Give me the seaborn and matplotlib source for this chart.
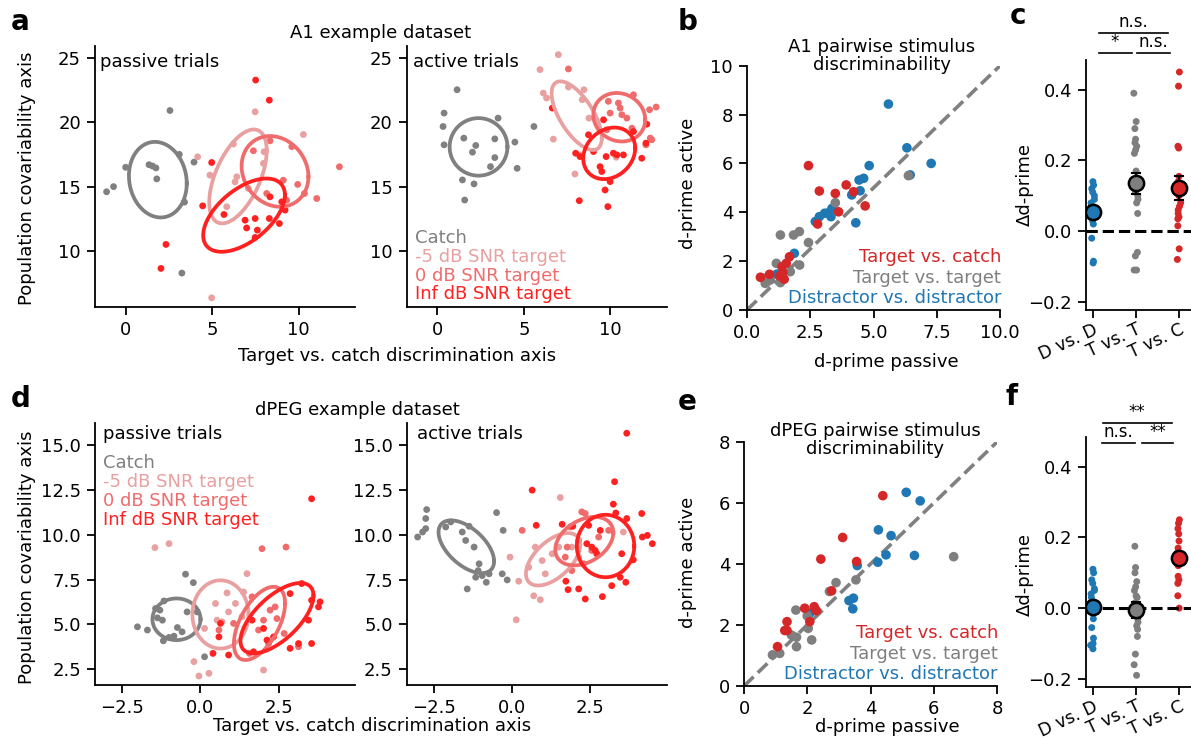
import numpy as np
import pandas as pd
import matplotlib
matplotlib.use("Agg")
import matplotlib.pyplot as plt
from matplotlib.lines import Line2D
import seaborn as sns

# ---------------- categories / colours ----------------
stim_groups = ["Catch", "-5 dB SNR target", "0 dB SNR target", "Inf dB SNR target"]
stim_colors = ["#808080", "#e8a0a0", "#f06c6c", "#ff2020"]
pair_groups = ["Distractor vs. distractor", "Target vs. target", "Target vs. catch"]
pair_colors = ["#1f77b4", "#7f7f7f", "#d62728"]
delta_cats = ["D vs. D", "T vs. T", "T vs. C"]
delta_colors = ["#1f77b4", "#7f7f7f", "#d62728"]

# ---------------- panel a: A1 example, passive ----------------
a_pas_catch_x = [2.56, 0.0, 1.35, 1.55, 1.75, 1.8, -1.1, -0.7, 3.1, 3.95, 3.4, 3.25]
a_pas_catch_y = [20.9, 16.5, 16.7, 16.6, 16.45, 15.6, 14.6, 15.0, 17.5, 16.9, 13.8, 8.3]
a_pas_m5_x = [7.48, 10.27, 4.16, 6.22, 4.87, 6.42, 6.32, 7.96, 4.97, 7.09, 5.84, 8.0]
a_pas_m5_y = [20.8, 19.04, 17.31, 18.3, 15.89, 15.76, 15.37, 16.8, 6.38, 14.86, 13.44, 17.7]
a_pas_0db_x = [7.38, 8.34, 9.6, 12.35, 11.04, 9.11, 9.94, 10.33, 8.15, 9.3]
a_pas_0db_y = [17.78, 18.55, 18.1, 16.54, 14.08, 15.5, 15.17, 14.47, 14.47, 13.95]
a_pas_inf_x = [7.51, 8.3, 2.33, 2.04, 4.45, 4.97, 5.68, 6.9, 6.99, 7.48, 7.61, 7.48, 8.3, 8.88, 9.21, 8.34, 9.02]
a_pas_inf_y = [23.26, 21.7, 10.52, 8.66, 13.51, 16.87, 12.84, 12.4, 11.8, 12.53, 11.63, 11.06, 12.53, 12.14, 13.18, 14.21, 13.82]
# ellipses (centre, std along each axis, correlation) per group
a_pas_ell_cx = [1.86, 6.49, 8.63, 6.84]
a_pas_ell_cy = [15.54, 15.79, 16.18, 12.79]
a_pas_ell_sx = [1.67, 1.66, 1.93, 2.36]
a_pas_ell_sy = [2.93, 3.64, 2.74, 2.84]
a_pas_ell_r = [-0.1, 0.55, -0.15, 0.55]

# ---------------- panel a: A1 example, active ----------------
a_act_catch_x = [1.14, 0.39, 0.33, 0.39, 3.51, 1.53, 2.22, 2.03, 3.32, 3.32, 4.48, 3.07, 4.61, 1.45, 2.12, 1.58, 5.58]
a_act_catch_y = [22.51, 20.7, 19.66, 18.24, 20.31, 18.76, 18.19, 17.67, 18.7, 17.25, 18.45, 16.55, 16.42, 15.52, 15.21, 13.96, 19.66]
a_act_m5_x = [6.99, 5.93, 6.12, 6.31, 7.57, 8.47, 8.37, 8.76, 6.7, 7.95, 10.33, 8.24]
a_act_m5_y = [25.23, 24.07, 22.25, 21.87, 22.72, 22.51, 21.74, 20.31, 18.68, 15.98, 17.28, 17.46]
a_act_0db_x = [9.88, 10.46, 10.56, 9.98, 10.66, 10.95, 11.33, 12.26, 12.64, 9.79, 11.24, 12.3, 12.39, 12.05, 7.57]
a_act_0db_y = [21.61, 21.48, 21.09, 20.7, 20.57, 20.31, 22.12, 20.96, 21.17, 19.4, 19.53, 18.76, 18.63, 18.24, 24.12]
a_act_inf_x = [6.64, 8.73, 7.99, 8.24, 9.02, 9.4, 9.5, 9.75, 10.17, 10.37, 10.75, 9.98, 9.69, 8.2, 9.85, 11.81, 12.05, 12.1, 9.6, 11.33]
a_act_inf_y = [21.09, 19.02, 17.59, 17.33, 17.72, 16.55, 16.17, 17.33, 17.59, 17.46, 17.46, 15.39, 14.74, 13.91, 13.45, 17.2, 18.37, 19.84, 20.18, 19.27]
a_act_ell_cx = [2.38, 8.05, 10.51, 9.93]
a_act_ell_cy = [18.08, 20.5, 20.38, 17.58]
a_act_ell_sx = [1.67, 1.45, 1.5, 1.5]
a_act_ell_sy = [2.23, 2.66, 1.88, 2.0]
a_act_ell_r = [0.0, -0.65, -0.1, 0.2]

# ---------------- panel b: A1 pairwise d-prime ----------------
b_dd_pas = [5.59, 6.32, 7.28, 4.83, 4.61, 4.43, 4.47, 4.14, 6.45, 4.3, 3.36, 3.22, 3.07, 2.86, 2.70, 3.32, 1.87, 1.18]
b_dd_act = [8.43, 6.64, 6.0, 5.91, 5.39, 5.32, 4.88, 4.71, 5.53, 3.57, 4.16, 3.98, 3.96, 3.82, 3.62, 3.82, 2.32, 1.47]
b_tt_pas = [1.32, 1.84, 2.07, 2.43, 3.49, 2.08, 1.16, 0.79, 0.72, 0.92, 1.32, 1.71, 6.38, 0.65]
b_tt_act = [3.07, 3.07, 3.21, 2.76, 4.39, 1.84, 1.91, 1.16, 1.09, 1.23, 1.12, 1.57, 5.5, 1.3]
b_tc_pas = [2.43, 2.86, 3.49, 3.92, 4.21, 3.62, 4.67, 2.79, 1.68, 1.55, 1.38, 1.42, 1.47, 0.53, 0.89, 1.29]
b_tc_act = [5.91, 4.87, 4.77, 5.12, 4.84, 4.02, 4.26, 3.52, 2.18, 1.91, 1.77, 1.53, 1.26, 1.34, 1.46, 1.39]

# ---------------- panel c: A1 delta d-prime ----------------
c_dd = [0.14, 0.13, 0.12, 0.11, 0.10, 0.09, 0.08, 0.07, 0.06, 0.05, 0.04, 0.03, 0.02, -0.02, -0.085, -0.09]
c_tt = [0.39, 0.31, 0.29, 0.26, 0.25, 0.24, 0.23, 0.22, 0.17, 0.15, 0.13, 0.12, 0.11, 0.10, 0.09, 0.08, 0.05, -0.06, -0.07, -0.11, -0.11]
c_tc = [0.45, 0.41, 0.24, 0.235, 0.155, 0.14, 0.12, 0.10, 0.08, 0.07, 0.06, 0.05, 0.04, 0.035, 0.015, -0.05, -0.08]
c_sig_top = "n.s."
c_sig_left = "*"
c_sig_right = "n.s."

# ---------------- panel d: dPEG example, passive ----------------
d_pas_catch_x = [-0.48, -0.23, -1.17, -1.44, -1.3, -1.38, -1.22, -0.74, -0.59, -1.19, -1.01, -2.02, -1.7, -0.43, -0.11, 0.13, -0.85]
d_pas_catch_y = [7.8, 7.33, 6.31, 5.89, 5.8, 5.37, 5.24, 4.83, 4.59, 4.09, 4.28, 4.87, 4.69, 5.7, 5.7, 3.2, 4.35]
d_pas_m5_x = [-1.46, -1.01, 0.48, 0.85, 1.12, 0.9, 1.33, 0.53, 0.13, -0.21, -0.05, 0.27, 1.49, 1.38, 2.02, 0.69]
d_pas_m5_y = [9.28, 9.5, 6.17, 6.76, 6.17, 5.7, 5.43, 5.24, 4.78, 2.93, 2.13, 2.28, 7.83, 6.81, 2.46, 5.15]
d_pas_0db_x = [1.97, 2.74, 0.59, 1.06, 2.02, 2.23, 2.39, 2.45, 2.68, 2.18, 1.57, 3.14, 1.65, 1.86]
d_pas_0db_y = [9.22, 9.31, 4.69, 5.06, 5.24, 5.8, 5.98, 5.33, 4.5, 3.94, 3.39, 3.76, 6.54, 4.69]
d_pas_inf_x = [3.56, 0.64, 0.59, 0.4, 0.9, 1.65, 1.7, 2.02, 2.13, 2.34, 2.87, 2.87, 3.14, 3.24, 3.46, 3.56, 3.83, 3.78, 3.56]
d_pas_inf_y = [12.0, 5.06, 4.31, 3.39, 3.3, 5.24, 3.48, 4.78, 4.13, 4.31, 6.72, 3.67, 3.94, 7.28, 5.24, 6.35, 6.26, 5.98, 3.94]
d_pas_ell_cx = [-0.77, 0.64, 1.89, 2.45]
d_pas_ell_cy = [5.29, 5.56, 5.06, 5.35]
d_pas_ell_sx = [0.77, 0.9, 0.82, 1.17]
d_pas_ell_sy = [1.16, 1.9, 2.04, 1.96]
d_pas_ell_r = [0.0, 0.0, 0.55, 0.64]

# ---------------- panel d: dPEG example, active ----------------
d_act_catch_x = [-2.74, -2.77, -2.77, -2.87, -3.03, -0.5, -0.29, -2.13, -1.97, -1.6, -1.38, -1.49, -1.22, -1.06, -1.09, -0.74, -0.96, -1.17, -0.83, -1.44, -0.32, -0.16]
d_act_catch_y = [11.4, 10.9, 10.34, 10.15, 9.87, 11.23, 10.24, 10.43, 10.71, 10.15, 10.47, 9.68, 9.31, 8.38, 8.0, 7.82, 7.72, 7.63, 7.35, 6.98, 7.82, 7.48]
d_act_m5_x = [1.54, -0.07, 0.21, 0.13, 0.69, 0.9, 0.74, 0.96, 1.28, 1.06, 1.49, 1.91, 2.13, 3.56, 0.53]
d_act_m5_y = [12.07, 8.75, 7.41, 5.26, 6.6, 6.38, 9.31, 8.56, 8.94, 7.82, 9.31, 9.31, 8.75, 10.15, 8.19]
d_act_0db_x = [0.32, 1.86, 2.13, 1.76, 2.34, 3.09, 1.7, 2.55, 2.29, 1.91, 2.77, 2.23]
d_act_0db_y = [10.24, 10.43, 9.68, 9.31, 11.18, 10.24, 8.75, 9.12, 8.38, 8.0, 9.87, 11.27]
d_act_inf_x = [3.67, 3.28, 3.24, 3.32, 0.64, 0.77, 1.6, 1.94, 2.45, 2.82, 2.39, 2.55, 2.66, 2.71, 2.13, 2.34, 2.89, 3.19, 3.46, 3.64, 3.51, 3.88, 4.15, 4.17, 4.49, 4.33, 3.67, 1.72, 1.79]
d_act_inf_y = [15.65, 12.95, 11.7, 11.21, 12.48, 10.52, 10.58, 10.47, 10.52, 10.24, 9.5, 9.31, 9.12, 8.94, 6.98, 6.42, 6.55, 7.16, 7.63, 7.35, 8.94, 8.6, 11.18, 9.87, 9.5, 9.96, 10.9, 7.41, 6.94]
d_act_ell_cx = [-1.47, 1.31, 2.31, 2.99]
d_act_ell_cy = [9.33, 8.63, 9.64, 9.37]
d_act_ell_sx = [0.89, 0.87, 0.93, 0.92]
d_act_ell_sy = [1.47, 1.46, 1.35, 1.74]
d_act_ell_r = [-0.55, 0.55, 0.35, 0.0]

# ---------------- panel e: dPEG pairwise d-prime ----------------
e_dd_pas = [5.13, 5.57, 4.25, 4.65, 4.49, 5.39, 4.23, 3.58, 3.46, 3.32, 3.44, 2.08]
e_dd_act = [6.35, 6.07, 5.12, 4.93, 4.3, 4.28, 4.06, 3.95, 2.88, 2.80, 2.53, 2.39]
e_tt_pas = [6.63, 3.54, 2.91, 2.70, 1.64, 2.0, 2.03, 2.14, 1.5, 1.66, 1.66, 0.9, 1.13]
e_tt_act = [4.24, 3.48, 3.39, 3.1, 2.49, 2.3, 1.89, 1.51, 1.67, 1.6, 1.29, 1.02, 1.07]
e_tc_pas = [4.39, 3.12, 2.43, 3.56, 2.77, 1.92, 2.22, 2.29, 1.36, 1.29, 1.36, 1.06, 2.08]
e_tc_act = [6.24, 4.87, 4.16, 4.08, 3.12, 2.55, 2.60, 2.47, 2.11, 1.82, 1.82, 1.29, 2.11]

# ---------------- panel f: dPEG delta d-prime ----------------
f_dd = [0.11, 0.10, 0.08, 0.07, 0.055, 0.05, 0.04, 0.03, 0.015, 0.005, -0.005, -0.015, -0.03, -0.055, -0.085, -0.10, -0.105, -0.115]
f_tt = [0.175, 0.115, 0.10, 0.075, 0.06, 0.05, 0.035, 0.03, 0.015, 0.0, -0.015, -0.03, -0.04, -0.05, -0.06, -0.08, -0.13, -0.16, -0.19]
f_tc = [0.25, 0.24, 0.225, 0.21, 0.19, 0.17, 0.16, 0.15, 0.14, 0.13, 0.12, 0.09, 0.08, 0.07, 0.035, 0.0]
f_sig_top = "**"
f_sig_left = "n.s."
f_sig_right = "**"

# =================== drawing ===================
FS = 13
plt.rcParams.update({
    "font.family": ["DejaVu Sans"],
    "font.size": FS,
    "axes.linewidth": 1.3,
    "xtick.major.size": 5.5,
    "ytick.major.size": 5.5,
    "xtick.major.width": 1.3,
    "ytick.major.width": 1.3,
    "xtick.labelsize": FS,
    "ytick.labelsize": FS,
    "xtick.major.pad": 4.5,
    "ytick.major.pad": 4.5,
})
W, H = 1191, 738
fig = plt.figure(figsize=(W / 100, H / 100), dpi=100)


def rect(l, t, r, b):
    return [l / W, 1 - b / H, (r - l) / W, (b - t) / H]


def ftext(x, y, s, **kw):
    kw.setdefault("fontsize", FS)
    fig.text(x / W, 1 - y / H, s, **kw)


def fline(x0, x1, y):
    fig.add_artist(Line2D([x0 / W, x1 / W], [1 - y / H, 1 - y / H], color="k", lw=1.2,
                          transform=fig.transFigure))


def draw_ellipse(ax, cx, cy, sx, sy, r, color):
    t = np.linspace(0, 2 * np.pi, 300)
    x = cx + sx * np.cos(t)
    y = cy + sy * (r * np.cos(t) + np.sqrt(1 - r ** 2) * np.sin(t))
    ax.plot(x, y, color=color, lw=2.7, zorder=2)


def stim_panel(ax, xs, ys, ell, xlim, ylim, xticks, yticks):
    frames = [pd.DataFrame({"x": x, "y": y, "group": g}) for g, x, y in zip(stim_groups, xs, ys)]
    df = pd.concat(frames, ignore_index=True)
    sns.scatterplot(data=df, x="x", y="y", hue="group", hue_order=stim_groups,
                    palette=stim_colors, s=24, linewidth=0, legend=False, ax=ax, zorder=1)
    for i in range(4):
        draw_ellipse(ax, ell[0][i], ell[1][i], ell[2][i], ell[3][i], ell[4][i], stim_colors[i])
    ax.set_xlim(*xlim)
    ax.set_ylim(*ylim)
    ax.set_xticks(xticks)
    ax.set_yticks(yticks)
    ax.set_xlabel("")
    ax.set_ylabel("")
    sns.despine(ax=ax)


def pair_panel(ax, pas, act, lim, ticks):
    frames = [pd.DataFrame({"passive": p, "active": a, "pair": g})
              for g, p, a in zip(pair_groups, pas, act)]
    df = pd.concat(frames, ignore_index=True)
    ax.plot([lim[0], lim[1]], [lim[0], lim[1]], ls="--", color="#808080", lw=2.6, zorder=1)
    sns.scatterplot(data=df, x="passive", y="active", hue="pair", hue_order=pair_groups,
                    palette=pair_colors, s=48, linewidth=0, legend=False, ax=ax, zorder=2)
    ax.set_xlim(*lim)
    ax.set_ylim(*lim)
    ax.set_xticks(ticks)
    ax.set_yticks(ticks)
    ax.set_xlabel("")
    ax.set_ylabel("")
    sns.despine(ax=ax)


def delta_panel(ax, vals):
    df = pd.concat([pd.DataFrame({"cmp": c, "delta": v}) for c, v in zip(delta_cats, vals)],
                   ignore_index=True)
    np.random.seed(3)
    sns.stripplot(data=df, x="cmp", y="delta", hue="cmp", order=delta_cats, hue_order=delta_cats,
                  palette=delta_colors, jitter=0.05, size=5, linewidth=0, legend=False,
                  ax=ax, zorder=1)
    ax.axhline(0, ls="--", color="k", lw=2.2, zorder=2)
    sns.pointplot(data=df, x="cmp", y="delta", hue="cmp", order=delta_cats, hue_order=delta_cats,
                  palette=delta_colors, errorbar="se", capsize=0.18, markers="o",
                  linestyle="none", markersize=11, markeredgecolor="k", markeredgewidth=1.8,
                  err_kws={"color": "k", "linewidth": 1.5, "linestyle": "-", "zorder": 9},
                  legend=False, ax=ax, zorder=10)
    ax.set_xlim(-0.155, 2.275)
    ax.set_ylim(-0.223, 0.484)
    ax.set_yticks([-0.2, 0.0, 0.2, 0.4])
    ax.set_xticks(range(3))
    ax.set_xticklabels(delta_cats, rotation=25, ha="right", rotation_mode="anchor",
                       fontsize=12.5)
    ax.tick_params(axis="x", pad=2.0)
    ax.set_xlabel("")
    ax.set_ylabel("")
    sns.despine(ax=ax)


# ---- top row ----
ax_a1 = fig.add_axes(rect(95, 46, 355, 307))
ax_a2 = fig.add_axes(rect(406.7, 46, 666.7, 307))
ax_b = fig.add_axes(rect(747, 65.7, 1000, 310))
ax_c = fig.add_axes(rect(1086, 60, 1191, 310))

a_xlim, a_ylim = (-1.77, 13.25), (5.67, 25.9)
stim_panel(ax_a1, [a_pas_catch_x, a_pas_m5_x, a_pas_0db_x, a_pas_inf_x],
           [a_pas_catch_y, a_pas_m5_y, a_pas_0db_y, a_pas_inf_y],
           [a_pas_ell_cx, a_pas_ell_cy, a_pas_ell_sx, a_pas_ell_sy, a_pas_ell_r],
           a_xlim, a_ylim, [0, 5, 10], [10, 15, 20, 25])
stim_panel(ax_a2, [a_act_catch_x, a_act_m5_x, a_act_0db_x, a_act_inf_x],
           [a_act_catch_y, a_act_m5_y, a_act_0db_y, a_act_inf_y],
           [a_act_ell_cx, a_act_ell_cy, a_act_ell_sx, a_act_ell_sy, a_act_ell_r],
           a_xlim, a_ylim, [0, 5, 10], [10, 15, 20, 25])
pair_panel(ax_b, [b_dd_pas, b_tt_pas, b_tc_pas], [b_dd_act, b_tt_act, b_tc_act],
           (0, 10), [0, 2, 4, 6, 8, 10])
ax_b.set_xticks([0, 2.5, 5, 7.5, 10])
delta_panel(ax_c, [c_dd, c_tt, c_tc])

# ---- bottom row ----
ax_d1 = fig.add_axes(rect(95, 423, 355, 685))
ax_d2 = fig.add_axes(rect(406.7, 423, 666.7, 685))
ax_e = fig.add_axes(rect(744, 442, 997, 686))
ax_f = fig.add_axes(rect(1086, 437, 1191, 687))

d_xlim, d_ylim = (-3.38, 4.95), (1.63, 16.22)
stim_panel(ax_d1, [d_pas_catch_x, d_pas_m5_x, d_pas_0db_x, d_pas_inf_x],
           [d_pas_catch_y, d_pas_m5_y, d_pas_0db_y, d_pas_inf_y],
           [d_pas_ell_cx, d_pas_ell_cy, d_pas_ell_sx, d_pas_ell_sy, d_pas_ell_r],
           d_xlim, d_ylim, [-2.5, 0, 2.5], [2.5, 5, 7.5, 10, 12.5, 15])
stim_panel(ax_d2, [d_act_catch_x, d_act_m5_x, d_act_0db_x, d_act_inf_x],
           [d_act_catch_y, d_act_m5_y, d_act_0db_y, d_act_inf_y],
           [d_act_ell_cx, d_act_ell_cy, d_act_ell_sx, d_act_ell_sy, d_act_ell_r],
           d_xlim, d_ylim, [-2.5, 0, 2.5], [2.5, 5, 7.5, 10, 12.5, 15])
pair_panel(ax_e, [e_dd_pas, e_tt_pas, e_tc_pas], [e_dd_act, e_tt_act, e_tc_act],
           (0, 8), [0, 2, 4, 6, 8])
delta_panel(ax_f, [f_dd, f_tt, f_tc])

# ---- texts ----
for lab, x, y in [("a", 11, 30), ("b", 678, 30), ("c", 1010, 24),
                  ("d", 11, 407), ("e", 678, 410), ("f", 1005, 405)]:
    ftext(x, y, lab, fontsize=20, fontweight="bold", ha="left", va="baseline")

ftext(381, 33, "A1 example dataset", ha="center", va="center")
ftext(357, 410, "dPEG example dataset", ha="center", va="center")
ftext(397, 356, "Target vs. catch discrimination axis", ha="center", va="center")
ftext(372, 726, "Target vs. catch discrimination axis", ha="center", va="center")
ftext(27, 178, "Population covariability axis", ha="center", va="center", rotation=90)
ftext(27, 557, "Population covariability axis", ha="center", va="center", rotation=90)
ftext(100, 62, "passive trials", ha="left", va="center")
ftext(413, 62, "active trials", ha="left", va="center")
ftext(103, 434, "passive trials", ha="left", va="center")
ftext(417, 434, "active trials", ha="left", va="center")
for g, col, ya, yd in zip(stim_groups, stim_colors, [238, 257, 276, 294], [463, 482, 501, 520]):
    ftext(415, ya, g, color=col, ha="left", va="center")
    ftext(103, yd, g, color=col, ha="left", va="center")

ftext(882, 56, "A1 pairwise stimulus\ndiscriminability", ha="center", va="center", linespacing=1.0)
ftext(875, 440, "dPEG pairwise stimulus\ndiscriminability", ha="center", va="center", linespacing=1.0)
for g, col, yb, ye in zip(pair_groups[::-1], pair_colors[::-1], [257, 278, 298], [633, 654, 674]):
    ftext(1001, yb, g, color=col, ha="right", va="center")
    ftext(998, ye, g, color=col, ha="right", va="center")
ftext(886, 362, "d-prime passive", ha="center", va="center")
ftext(887, 727, "d-prime passive", ha="center", va="center")
ftext(688, 183, "d-prime active", ha="center", va="center", rotation=90)
ftext(688, 562, "d-prime active", ha="center", va="center", rotation=90)
ftext(1025, 184, "\u0394d-prime", ha="center", va="center", rotation=90)
ftext(1025, 575, "\u0394d-prime", ha="center", va="center", rotation=90)

# significance brackets
fline(1099, 1168, 33)
fline(1099, 1132, 53)
fline(1137, 1170, 53)
ftext(1133, 31, c_sig_top, ha="center", va="bottom", fontsize=12)
ftext(1115, 51, c_sig_left, ha="center", va="bottom", fontsize=12)
ftext(1153, 51, c_sig_right, ha="center", va="bottom", fontsize=12)
fline(1103, 1172, 423)
fline(1102, 1135, 443)
fline(1142, 1173, 443)
ftext(1137, 421, f_sig_top, ha="center", va="bottom", fontsize=12)
ftext(1118, 441, f_sig_left, ha="center", va="bottom", fontsize=12)
ftext(1158, 441, f_sig_right, ha="center", va="bottom", fontsize=12)

fig.savefig("out.png", dpi=100)
